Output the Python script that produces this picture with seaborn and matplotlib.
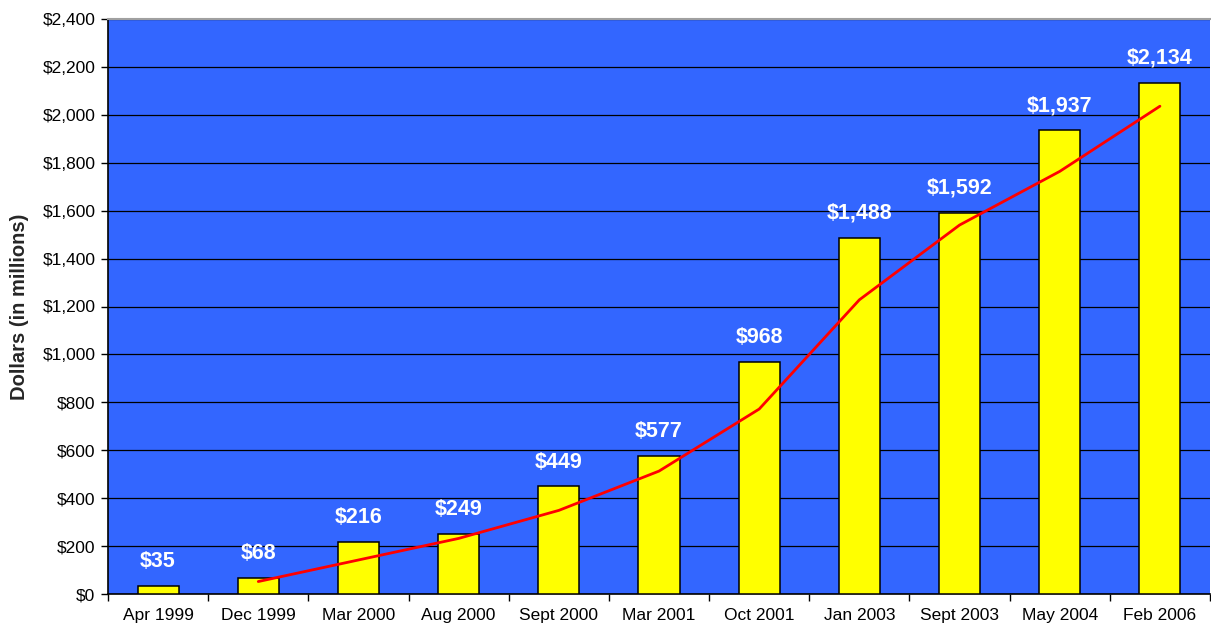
import numpy as np
import pandas as pd
import matplotlib
matplotlib.use("Agg")
import matplotlib.pyplot as plt
import seaborn as sns

categories = ["Apr 1999", "Dec 1999", "Mar 2000", "Aug 2000", "Sept 2000", "Mar 2001",
              "Oct 2001", "Jan 2003", "Sept 2003", "May 2004", "Feb 2006"]
values = [35, 68, 216, 249, 449, 577, 968, 1488, 1592, 1937, 2134]
# trend line, starting at Dec 1999
trend_categories = categories[1:]
trend_values = [52, 142, 232, 349, 513, 772, 1228, 1540, 1764, 2036]
yticks = [0, 200, 400, 600, 800, 1000, 1200, 1400, 1600, 1800, 2000, 2200, 2400]

sns.set_theme(style="white")
plt.rcParams['font.family'] = ['Liberation Sans', 'DejaVu Sans']

fig = plt.figure(figsize=(12.11, 6.30), dpi=100)
ax = fig.add_axes([108/1211, 36/630, 1 - 108/1211 - 0.0008, (594-19)/630])
ax.set_facecolor("#3366FF")

df = pd.DataFrame({"cat": categories, "val": values})
sns.barplot(data=df, x="cat", y="val", ax=ax, color="#FFFF00", saturation=1,
            width=0.41, edgecolor="black", linewidth=1.1, zorder=3)

pos = {c: i for i, c in enumerate(categories)}
tdf = pd.DataFrame({"x": [pos[c] for c in trend_categories], "y": trend_values})
sns.lineplot(data=tdf, x="x", y="y", ax=ax, color="#FF0000", linewidth=2.0, zorder=4)

for i, v in enumerate(values):
    ax.annotate(f"${v:,}", (i, v), xytext=(0, 10), textcoords="offset points",
                ha="center", va="bottom", color="white", fontsize=15.5,
                fontweight="bold", zorder=5)

ax.set_xlim(-0.5, len(categories) - 0.5)
ax.set_ylim(0, 2400)
ax.set_yticks(yticks)
ax.set_yticklabels([f"${t:,}" for t in yticks], fontsize=12.5, color="black")
ax.yaxis.grid(True, color="black", linewidth=0.9, zorder=1)
ax.set_axisbelow(True)
ax.set_xticks(range(len(categories)))
ax.set_xticklabels(categories, fontsize=12.5, color="black")
ax.set_xticks(np.arange(-0.5, len(categories), 1), minor=True)
ax.tick_params(axis="x", which="major", length=0, pad=10)
ax.tick_params(axis="x", which="minor", length=5, width=1, color="black", direction="out", bottom=True)
ax.tick_params(axis="y", which="major", length=5, width=1, color="black", direction="out", left=True, pad=4)

ax.set_xlabel("")
ax.set_ylabel("Dollars (in millions)", fontsize=14.5, fontweight="bold", labelpad=10)

for s in ["left", "bottom"]:
    ax.spines[s].set_color("black")
    ax.spines[s].set_linewidth(1.2)
ax.spines["top"].set_color("#A0A0A0")
ax.spines["top"].set_linewidth(1.5)
ax.spines["right"].set_visible(False)

fig.savefig("out.png", dpi=100, facecolor="white")
